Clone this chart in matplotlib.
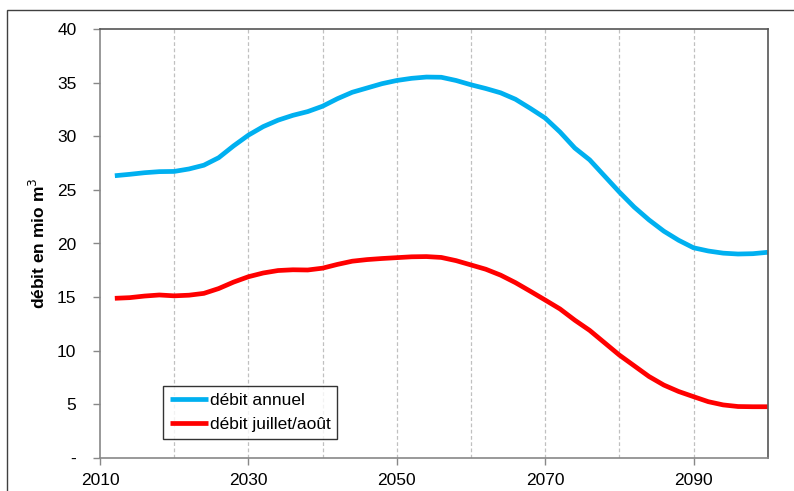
import matplotlib
matplotlib.use("Agg")
import matplotlib.pyplot as plt
from matplotlib.patches import Rectangle

plt.rcParams['font.family'] = ['Liberation Sans', 'DejaVu Sans']

years = [2012, 2014, 2016, 2018, 2020, 2022, 2024, 2026, 2028, 2030,
         2032, 2034, 2036, 2038, 2040, 2042, 2044, 2046, 2048, 2050,
         2052, 2054, 2056, 2058, 2060, 2062, 2064, 2066, 2068, 2070,
         2072, 2074, 2076, 2078, 2080, 2082, 2084, 2086, 2088, 2090,
         2092, 2094, 2096, 2098, 2100]
debit_annuel = [26.32, 26.45, 26.6, 26.7, 26.72, 26.95, 27.3, 28.0, 29.1, 30.1,
                30.9, 31.5, 31.95, 32.3, 32.8, 33.5, 34.1, 34.5, 34.9, 35.2,
                35.4, 35.52, 35.5, 35.2, 34.8, 34.45, 34.05, 33.45, 32.6, 31.7,
                30.4, 28.9, 27.8, 26.3, 24.8, 23.4, 22.2, 21.15, 20.3, 19.6,
                19.3, 19.1, 19.02, 19.05, 19.18]
debit_juillet_aout = [14.89, 14.95, 15.1, 15.2, 15.12, 15.18, 15.35, 15.8, 16.4, 16.9,
                      17.25, 17.48, 17.55, 17.53, 17.7, 18.05, 18.35, 18.5, 18.6, 18.68,
                      18.76, 18.78, 18.7, 18.4, 18.0, 17.6, 17.05, 16.35, 15.55, 14.73,
                      13.9, 12.85, 11.9, 10.75, 9.6, 8.6, 7.6, 6.8, 6.2, 5.72,
                      5.25, 4.95, 4.8, 4.78, 4.78]

y_ticks = [0, 5, 10, 15, 20, 25, 30, 35, 40]
y_ticklabels = ['-', '5', '10', '15', '20', '25', '30', '35', '40']
x_ticks = [2010, 2030, 2050, 2070, 2090]
x_grid = [2020, 2030, 2040, 2050, 2060, 2070, 2080, 2090]

W, H = 794, 491
fig = plt.figure(figsize=(W / 100, H / 100), dpi=100)
ax = fig.add_axes([100 / W, 1 - 458 / H, (767.7 - 100) / W, (458 - 29) / H])

# outer chart frame
fig.patches.append(Rectangle((7 / W, -0.1), 1.2, 1 - 10 / H + 0.1, transform=fig.transFigure,
                             fill=False, edgecolor='#404040', linewidth=1.0))

for xg in x_grid:
    ax.axvline(xg, color='#c0c0c0', linestyle=(0, (3, 2)), linewidth=0.9, zorder=0)

ax.plot(years, debit_annuel, color='#00B0F0', linewidth=3.4, label='débit annuel',
        solid_capstyle='butt', solid_joinstyle='round')
ax.plot(years, debit_juillet_aout, color='#FF0000', linewidth=3.4,
        label='débit juillet/août', solid_capstyle='butt', solid_joinstyle='round')

ax.set_xlim(2010, 2100)
ax.set_ylim(0, 40)
ax.set_yticks(y_ticks)
ax.set_yticklabels(y_ticklabels)
ax.set_xticks(x_ticks)
ax.tick_params(axis='both', labelsize=12.5, direction='out', length=5, width=1, colors='#888888',
               labelcolor='black')
ax.tick_params(axis='y', pad=12)
ax.tick_params(axis='x', pad=6)

for s in ['left', 'bottom']:
    ax.spines[s].set_color('#888888')
    ax.spines[s].set_linewidth(1.2)
for s in ['top', 'right']:
    ax.spines[s].set_color('#555555')
    ax.spines[s].set_linewidth(1.2)

ax.set_ylabel('débit en mio m$^3$', fontsize=12.5, fontweight='bold')
ax.yaxis.set_label_coords(-0.078, 0.5)

leg = ax.legend(loc='lower left', bbox_to_anchor=(0.094, 0.044), fontsize=12.5, frameon=True,
                fancybox=False, edgecolor='black', handlelength=2.2, handletextpad=0.1,
                borderpad=0.4, labelspacing=0.5, borderaxespad=0)
leg.get_frame().set_linewidth(1.0)

fig.savefig('out.png', dpi=100)
